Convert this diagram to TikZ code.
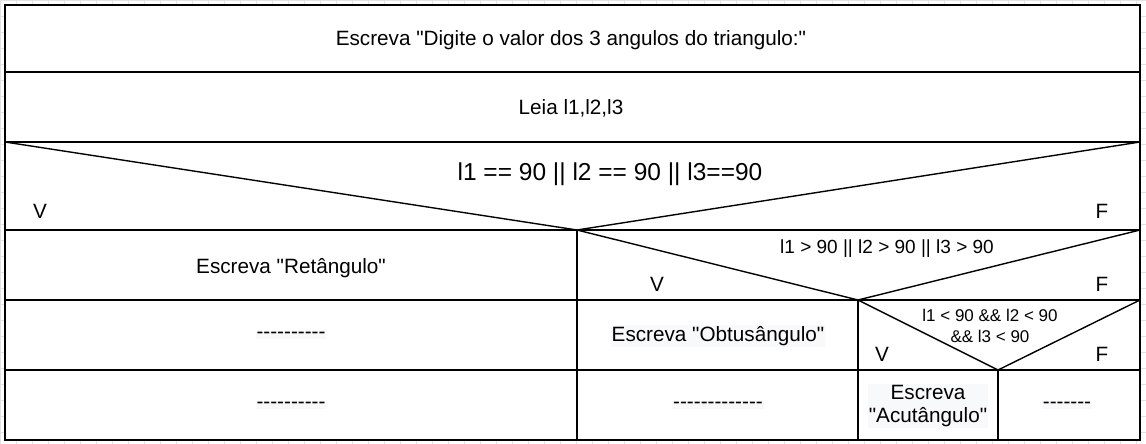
\documentclass[tikz,border=0pt]{standalone}
\usepackage{fontspec}
\setmainfont{Liberation Sans}[Ligatures=TeXOff]
\definecolor{hl}{RGB}{248,249,250}
\definecolor{grade}{RGB}{226,226,226}
\begin{document}
\begin{tikzpicture}[x=1pt,y=-1pt,
	cell/.style={line width=1.4pt},
	txt/.style={font=\fontsize{20.7}{23}\selectfont},
	big/.style={font=\fontsize{24.5}{28}\selectfont},
	small/.style={font=\fontsize{19}{21}\selectfont},
	tiny/.style={font=\fontsize{17}{21}\selectfont},
	realce/.style={fill=hl,inner sep=1pt}]
			\useasboundingbox (0,0) rectangle (1146,444);
			\draw[grade,step=16pt] (0,0) grid (1146,444);
			% caixas
			\draw[cell,fill=white] (5,5) rectangle (1140,440);
			\draw[cell] (5,72) -- (1140,72);
			\draw[cell] (5,142) -- (1140,142);
			\draw[cell] (5,230) -- (1140,230);
			\draw[cell] (5,300) -- (1140,300);
			\draw[cell] (5,370) -- (1140,370);
			\draw[cell] (577,230) -- (577,440);
			\draw[cell] (858,300) -- (858,440);
			\draw[cell] (998,370) -- (998,440);
			% decisoes
			\draw[cell] (5,142) -- (577,230) -- (1140,142);
			\draw[cell] (577,230) -- (858,300) -- (1140,230);
			\draw[cell] (858,300) -- (998,370) -- (1140,300);
			% textos
			\draw (571,40) node[txt] (digite) {Escreva "Digite o valor dos 3 angulos do triangulo:"};
			\draw (571,108) node[txt] (leia) {Leia l1,l2,l3};
			\draw (610,174) node[big] (cond1) {l1 == 90 || l2 == 90 || l3==90};
			\draw (40,211) node[txt] (v1) {V};
			\draw (1102,211) node[txt] (f1) {F};
			\draw (291,268) node[txt] (ret) {Escreva "Retângulo"};
			\draw (887,249) node[small] (cond2) {l1 > 90 || l2 > 90 || l3 > 90};
			\draw (657,284) node[txt] (v2) {V};
			\draw (1102,284) node[txt] (f2) {F};
			\draw (291,335) node[txt,realce] (vazio1) {----------};
			\draw (718,336) node[txt,realce] (obt) {Escreva "Obtusângulo"};
			\draw (990,326) node[tiny,align=center] (cond3) {l1 < 90 \&\& l2 < 90\\\&\& l3 < 90};
			\draw (882,354) node[txt] (v3) {V};
			\draw (1102,354) node[txt] (f3) {F};
			\draw (291,405) node[txt,realce] (vazio2) {----------};
			\draw (718,405) node[txt,realce] (vazio3) {-------------};
			\draw (928,406) node[txt,realce,align=center] (acu) {Escreva\\"Acutângulo"};
			\draw (1067,405) node[txt,realce] (vazio4) {-------};
\end{tikzpicture}
\end{document}
